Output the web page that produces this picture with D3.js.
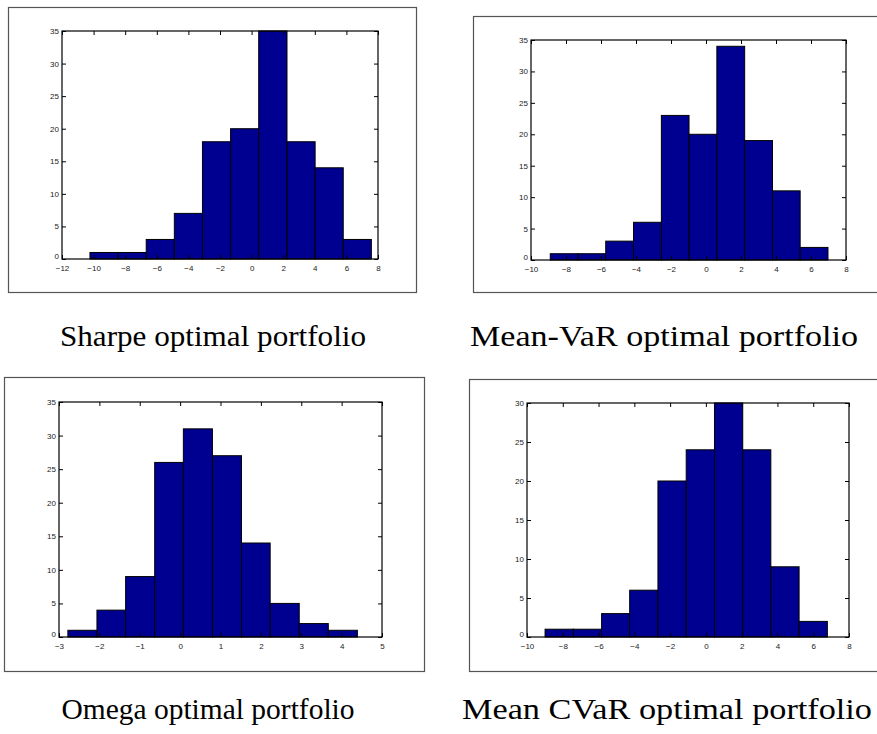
<!DOCTYPE html>
<html><head><meta charset="utf-8">
<script src="https://cdn.jsdelivr.net/npm/d3@7/dist/d3.min.js"></script>
<style>body{margin:0;background:#fff}svg{display:block}</style>
</head><body>
<script>
// ---- data ----
const titles = ["Sharpe optimal portfolio","Mean-VaR optimal portfolio","Omega optimal portfolio","Mean CVaR optimal portfolio"];
const sharpeEdges = [-10.23,-8.45,-6.67,-4.89,-3.11,-1.33,0.45,2.24,4.02,5.80,7.58];
const sharpeCounts = [1,1,3,7,18,20,35,18,14,3];
const varEdges = [-8.90,-7.31,-5.73,-4.14,-2.55,-0.97,0.62,2.21,3.80,5.38,6.97];
const varCounts = [1,1,3,6,23,20,34,19,11,2];
const omegaEdges = [-2.78,-2.06,-1.35,-0.63,0.08,0.80,1.52,2.23,2.95,3.67,4.39];
const omegaCounts = [1,4,9,26,31,27,14,5,2,1];
const cvarEdges = [-8.99,-7.41,-5.83,-4.26,-2.68,-1.10,0.48,2.06,3.63,5.21,6.79];
const cvarCounts = [1,1,3,6,20,24,30,24,9,2];
const xTicks1 = [-12,-10,-8,-6,-4,-2,0,2,4,6,8];
const xTicks2 = [-10,-8,-6,-4,-2,0,2,4,6,8];
const xTicks3 = [-3,-2,-1,0,1,2,3,4,5];
const yTicks35 = [0,5,10,15,20,25,30,35];
const yTicks30 = [0,5,10,15,20,25,30];

// ---- layout ----
const panels = [
  {edges:sharpeEdges, counts:sharpeCounts, xt:xTicks1, yt:yTicks35, xd:[-12,8], yd:[0,35],
   frame:[8,7,408,285], ax:[62,31,378,259], cap:[213,346,306]},
  {edges:varEdges, counts:varCounts, xt:xTicks2, yt:yTicks35, xd:[-10,8], yd:[0,35],
   frame:[473,16,420,276], ax:[531,40,846,260], cap:[664,346,388]},
  {edges:omegaEdges, counts:omegaCounts, xt:xTicks3, yt:yTicks35, xd:[-3,5], yd:[0,35],
   frame:[4,377,420,294], ax:[59,402,382,637], cap:[208,719,293]},
  {edges:cvarEdges, counts:cvarCounts, xt:xTicks2, yt:yTicks30, xd:[-10,8], yd:[0,30],
   frame:[469,379,420,292], ax:[527,403,849,637], cap:[667,719,410]}
];

const svg = d3.select("body").append("svg").attr("width",877).attr("height",734);

panels.forEach((p,i)=>{
  const g = svg.append("g");
  const [fx,fy,fw,fh] = p.frame;
  g.append("rect").attr("x",fx+0.5).attr("y",fy+0.5).attr("width",fw).attr("height",fh)
    .attr("fill","#fff").attr("stroke","#555").attr("stroke-width",1.2);
  const [x0,y0,x1,y1] = p.ax;
  const x = d3.scaleLinear().domain(p.xd).range([x0,x1]);
  const y = d3.scaleLinear().domain(p.yd).range([y1,y0]);
  const bins = p.counts.map((c,k)=>({x0:p.edges[k], x1:p.edges[k+1], c}));
  g.selectAll("rect.bar").data(bins).enter().append("rect").attr("class","bar")
    .attr("x",d=>x(d.x0)).attr("width",d=>x(d.x1)-x(d.x0))
    .attr("y",d=>y(d.c)).attr("height",d=>y(0)-y(d.c))
    .attr("fill","#000090").attr("stroke","#000").attr("stroke-width",1);
  const fs = "8px";
  const ax = g.append("g").attr("transform",`translate(0,${y1})`)
    .call(d3.axisBottom(x).tickValues(p.xt).tickSize(-4).tickPadding(6).tickFormat(d3.format("d")));
  const ay = g.append("g").attr("transform",`translate(${x0},0)`)
    .call(d3.axisLeft(y).tickValues(p.yt).tickSize(-4).tickPadding(3).tickFormat(d3.format("d")));
  const at = g.append("g").attr("transform",`translate(0,${y0})`)
    .call(d3.axisTop(x).tickValues(p.xt).tickSize(-4).tickFormat(""));
  const ar = g.append("g").attr("transform",`translate(${x1},0)`)
    .call(d3.axisRight(y).tickValues(p.yt).tickSize(-4).tickFormat(""));
  [ax,ay,at,ar].forEach(a=>{
    a.select(".domain").remove();
    a.selectAll("line").attr("stroke","#000");
    a.selectAll("text").attr("font-family","Liberation Sans, Arial, sans-serif").attr("font-size",fs).attr("fill","#222");
  });
  // lift the zero label slightly so it clears the first x label (as in the reference)
  ay.selectAll(".tick").filter(d=>d===0).select("text").attr("dy","-0.05em");
  g.append("rect").attr("x",x0).attr("y",y0).attr("width",x1-x0).attr("height",y1-y0)
    .attr("fill","none").attr("stroke","#000").attr("stroke-width",1.2);
  const [cx,cy,cw] = p.cap;
  g.append("text").attr("x",cx).attr("y",cy).attr("text-anchor","middle")
    .attr("font-family","Liberation Serif, Times New Roman, serif").attr("font-size","30px")
    .attr("textLength",cw).attr("lengthAdjust","spacingAndGlyphs").attr("fill","#000")
    .text(titles[i]);
});
</script>
</body></html>
